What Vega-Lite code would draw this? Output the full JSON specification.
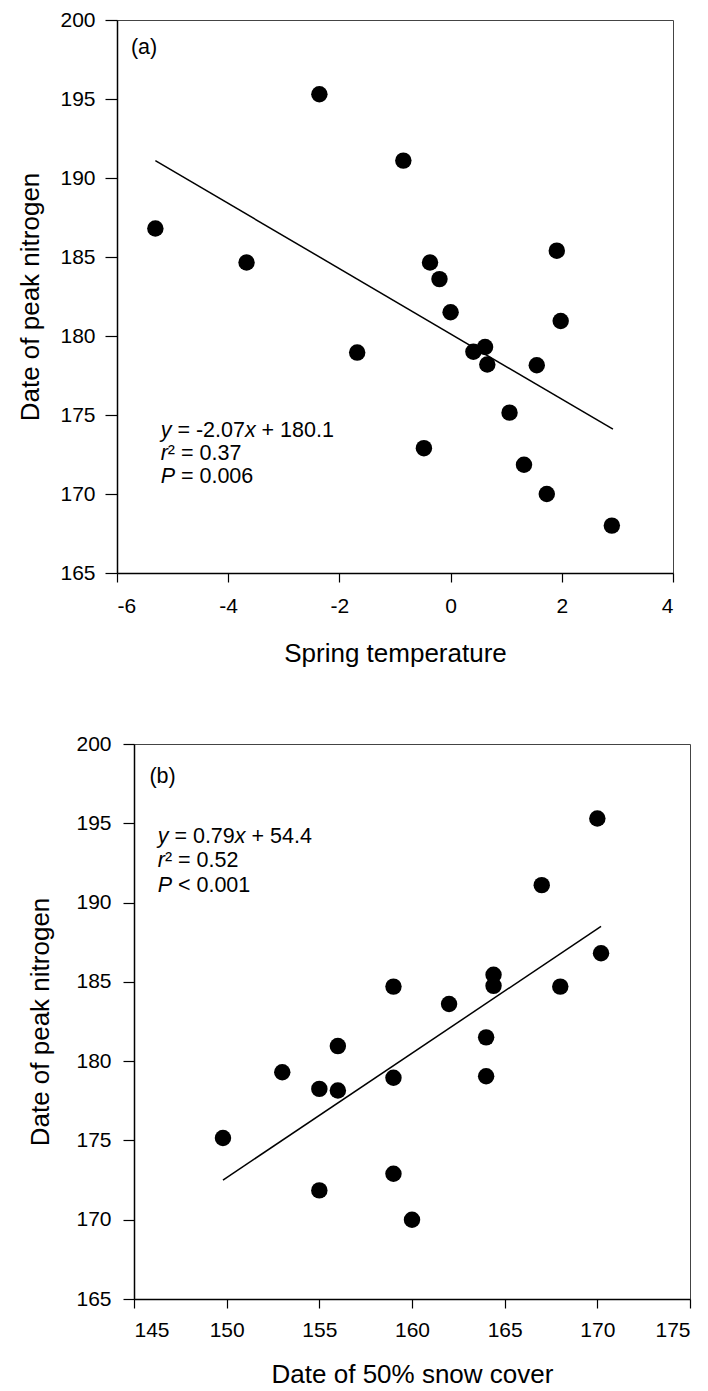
{
  "$schema": "https://vega.github.io/schema/vega-lite/v6.json",
  "padding": {"left": 10, "top": 8, "right": 0, "bottom": 0},
  "background": "white",
  "spacing": 65,
  "config": {
    "font": "Liberation Sans",
    "axis": {"grid": false, "domainColor": "black", "domainWidth": 1.5, "tickColor": "black", "tickWidth": 1.2, "labelColor": "black", "titleColor": "black", "labelFont": "Liberation Sans", "titleFont": "Liberation Sans", "labelFontSize": 21, "titleFontSize": 26, "titleFontWeight": "normal", "labelExpr": "replace(datum.label, '\u2212', '-')"},
    "view": {"stroke": "#444", "strokeWidth": 1},
    "text": {"font": "Liberation Sans", "fontSize": 21.5, "color": "black", "align": "left", "baseline": "middle"}
  },
  "datasets": {
    "a_points": [
      {"x": -5.31, "y": 186.8}, {"x": -3.67, "y": 184.65}, {"x": -2.36, "y": 195.3}, {"x": -1.68, "y": 178.95},
      {"x": -0.85, "y": 191.1}, {"x": -0.48, "y": 172.9}, {"x": -0.37, "y": 184.65}, {"x": -0.2, "y": 183.6},
      {"x": 0.0, "y": 181.5}, {"x": 0.41, "y": 179.0}, {"x": 0.62, "y": 179.3}, {"x": 0.66, "y": 178.2},
      {"x": 1.06, "y": 175.15}, {"x": 1.32, "y": 171.85}, {"x": 1.55, "y": 178.15}, {"x": 1.73, "y": 170.0},
      {"x": 1.91, "y": 185.4}, {"x": 1.98, "y": 180.95}, {"x": 2.9, "y": 168.0}
    ],
    "a_line": [{"x": -5.31, "y": 191.1}, {"x": 2.92, "y": 174.1}],
    "a_text": [
      {"x": -5.75, "y": 198.25, "t": "(a)", "s": "n"},
      {"x": -5.214, "y": 173.99, "t": "y", "s": "i"},
      {"x": -4.914, "y": 173.99, "t": "= -2.07", "s": "n"},
      {"x": -3.7, "y": 173.99, "t": "x", "s": "i"},
      {"x": -3.4, "y": 173.99, "t": "+ 180.1", "s": "n"},
      {"x": -5.214, "y": 172.55, "t": "r", "s": "i"},
      {"x": -5.085, "y": 172.55, "t": "² = 0.37", "s": "n"},
      {"x": -5.214, "y": 171.1, "t": "P", "s": "i"},
      {"x": -4.85, "y": 171.1, "t": "= 0.006", "s": "n"}
    ],
    "b_points": [
      {"x": 149.8, "y": 175.15}, {"x": 153.0, "y": 179.3}, {"x": 155.0, "y": 178.25}, {"x": 155.0, "y": 171.85},
      {"x": 156.0, "y": 180.95}, {"x": 156.0, "y": 178.15}, {"x": 159.0, "y": 184.7}, {"x": 159.0, "y": 178.95},
      {"x": 159.0, "y": 172.9}, {"x": 160.0, "y": 170.0}, {"x": 162.0, "y": 183.6}, {"x": 164.0, "y": 181.5},
      {"x": 164.0, "y": 179.05}, {"x": 164.4, "y": 185.45}, {"x": 164.4, "y": 184.75}, {"x": 167.0, "y": 191.1},
      {"x": 168.0, "y": 184.7}, {"x": 170.0, "y": 195.3}, {"x": 170.2, "y": 186.8}
    ],
    "b_line": [{"x": 149.8, "y": 172.5}, {"x": 170.2, "y": 188.5}],
    "b_text": [
      {"x": 145.83, "y": 197.94, "t": "(b)", "s": "n"},
      {"x": 146.28, "y": 194.16, "t": "y", "s": "i"},
      {"x": 147.18, "y": 194.16, "t": "= 0.79", "s": "n"},
      {"x": 150.44, "y": 194.16, "t": "x", "s": "i"},
      {"x": 151.34, "y": 194.16, "t": "+ 54.4", "s": "n"},
      {"x": 146.28, "y": 192.6, "t": "r", "s": "i"},
      {"x": 146.67, "y": 192.6, "t": "² = 0.52", "s": "n"},
      {"x": 146.28, "y": 191.05, "t": "P", "s": "i"},
      {"x": 147.37, "y": 191.05, "t": "< 0.001", "s": "n"}
    ]
  },
  "vconcat": [
    {
      "spacing": 0,
      "hconcat": [
        {"width": 1, "height": 1, "data": {"values": [{}]}, "mark": {"type": "point", "opacity": 0}, "view": {"stroke": null}},
        {
          "width": 556,
          "height": 553,
          "encoding": {
            "x": {"field": "x", "type": "quantitative", "scale": {"domain": [-6, 4], "nice": false, "zero": false},
                  "axis": {"title": "Spring temperature", "values": [-6, -4, -2, 0, 2, 4], "tickSize": 9, "labelPadding": 13.5, "titlePadding": 24}},
            "y": {"field": "y", "type": "quantitative", "scale": {"domain": [165, 200], "nice": false, "zero": false},
                  "axis": {"title": "Date of peak nitrogen", "values": [165, 170, 175, 180, 185, 190, 195, 200], "tickSize": 12, "labelPadding": 10, "titlePadding": 16}}
          },
          "layer": [
            {"data": {"name": "a_line"}, "mark": {"type": "line", "color": "black", "strokeWidth": 1.5}},
            {"data": {"name": "a_points"}, "mark": {"type": "circle", "size": 270, "color": "black", "opacity": 1}},
            {"data": {"name": "a_text"}, "transform": [{"filter": "datum.s === 'n'"}], "mark": {"type": "text"}, "encoding": {"text": {"field": "t"}}},
            {"data": {"name": "a_text"}, "transform": [{"filter": "datum.s === 'i'"}], "mark": {"type": "text", "fontStyle": "italic"}, "encoding": {"text": {"field": "t"}}}
          ]
        }
      ]
    },
    {
      "spacing": 0,
      "hconcat": [
        {"width": 14, "height": 1, "data": {"values": [{}]}, "mark": {"type": "point", "opacity": 0}, "view": {"stroke": null}},
        {
          "width": 556,
          "height": 555,
          "encoding": {
            "x": {"field": "x", "type": "quantitative", "scale": {"domain": [145, 175], "nice": false, "zero": false},
                  "axis": {"title": "Date of 50% snow cover", "values": [145, 150, 155, 160, 165, 170, 175], "tickSize": 9, "labelPadding": 11.5, "titlePadding": 21}},
            "y": {"field": "y", "type": "quantitative", "scale": {"domain": [165, 200], "nice": false, "zero": false},
                  "axis": {"title": "Date of peak nitrogen", "values": [165, 170, 175, 180, 185, 190, 195, 200], "tickSize": 11, "labelPadding": 12, "titlePadding": 22}}
          },
          "layer": [
            {"data": {"name": "b_line"}, "mark": {"type": "line", "color": "black", "strokeWidth": 1.5}},
            {"data": {"name": "b_points"}, "mark": {"type": "circle", "size": 270, "color": "black", "opacity": 1}},
            {"data": {"name": "b_text"}, "transform": [{"filter": "datum.s === 'n'"}], "mark": {"type": "text"}, "encoding": {"text": {"field": "t"}}},
            {"data": {"name": "b_text"}, "transform": [{"filter": "datum.s === 'i'"}], "mark": {"type": "text", "fontStyle": "italic"}, "encoding": {"text": {"field": "t"}}}
          ]
        }
      ]
    }
  ]
}
